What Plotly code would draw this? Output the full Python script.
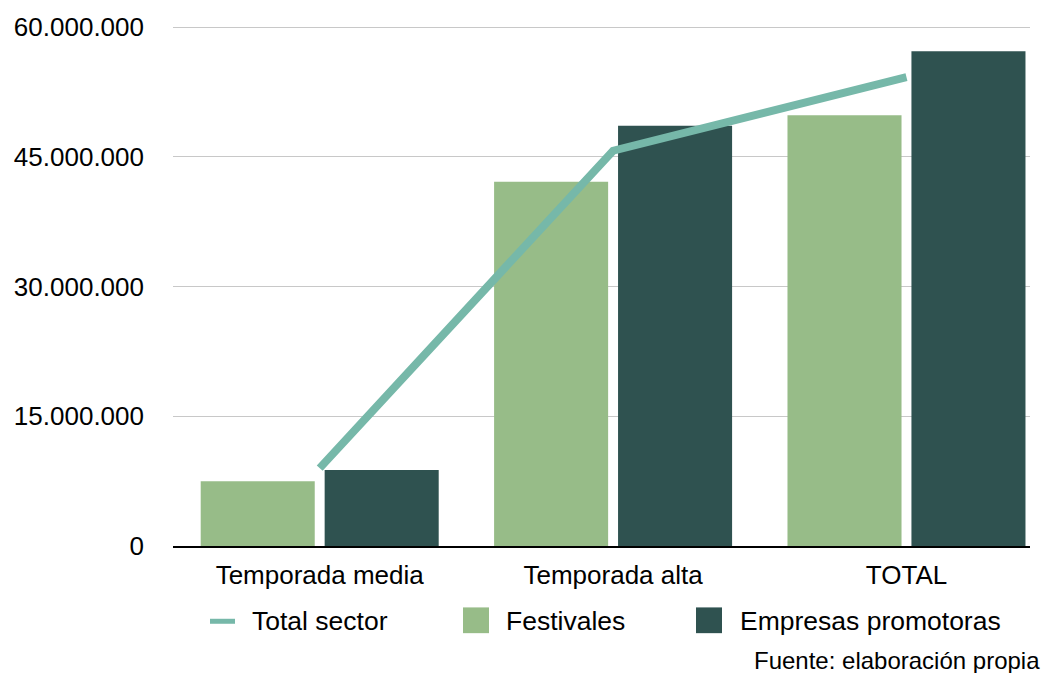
import plotly.graph_objects as go

categories = ["Temporada media", "Temporada alta", "TOTAL"]
festivales = [7.5e6, 42.1e6, 49.8e6]
empresas = [8.8e6, 48.6e6, 57.2e6]
total_sector = [9.0e6, 45.7e6, 54.2e6]
y_ticks = [0, 15e6, 30e6, 45e6, 60e6]

C_FEST = "#97BC88"
C_EMP = "#2F5250"
C_LINE = "#76B8A9"
FONT = "Liberation Sans, Arial, Helvetica, sans-serif"

W, H = 1043, 673
L, R, T, B = 173, 13, 21, 127
pw, ph = W - L - R, H - T - B

def px_x(x):
    return (x - L) / pw

def px_y(y):
    return (H - B - y) / ph

fig = go.Figure()
fig.add_trace(go.Bar(name="Festivales", x=categories, y=festivales,
                     marker=dict(color=C_FEST, line=dict(width=0)), showlegend=False))
fig.add_trace(go.Bar(name="Empresas promotoras", x=categories, y=empresas,
                     marker=dict(color=C_EMP, line=dict(width=0)), showlegend=False))
fig.add_trace(go.Scatter(name="Total sector", x=categories, y=total_sector, mode="lines",
                         line=dict(color=C_LINE, width=8), showlegend=False))

shapes = []
annotations = []
# legend (manual, pixel-matched)
ly = 622
LEG = 26.5
shapes.append(dict(type="line", xref="paper", yref="paper",
                   x0=px_x(210), x1=px_x(235), y0=px_y(ly), y1=px_y(ly),
                   line=dict(color=C_LINE, width=5)))
annotations.append(dict(text="Total sector", xref="paper", yref="paper",
                        x=px_x(250), y=px_y(ly), xanchor="left", yanchor="middle",
                        showarrow=False, font=dict(size=LEG, color="#000", family=FONT)))
shapes.append(dict(type="rect", xref="paper", yref="paper",
                   x0=px_x(463), x1=px_x(489), y0=px_y(634), y1=px_y(608),
                   fillcolor=C_FEST, line=dict(width=0)))
annotations.append(dict(text="Festivales", xref="paper", yref="paper",
                        x=px_x(504), y=px_y(ly), xanchor="left", yanchor="middle",
                        showarrow=False, font=dict(size=LEG, color="#000", family=FONT)))
shapes.append(dict(type="rect", xref="paper", yref="paper",
                   x0=px_x(696), x1=px_x(722), y0=px_y(634), y1=px_y(608),
                   fillcolor=C_EMP, line=dict(width=0)))
annotations.append(dict(text="Empresas promotoras", xref="paper", yref="paper",
                        x=px_x(738), y=px_y(ly), xanchor="left", yanchor="middle",
                        showarrow=False, font=dict(size=LEG, color="#000", family=FONT)))
annotations.append(dict(text="Fuente: elaboración propia", xref="paper", yref="paper",
                        x=px_x(1042), y=px_y(662), xanchor="right", yanchor="middle",
                        showarrow=False, font=dict(size=24, color="#000", family=FONT)))

fig.update_layout(
    width=W, height=H,
    margin=dict(l=L, r=R, t=T, b=B),
    paper_bgcolor="white", plot_bgcolor="white",
    barmode="group", bargap=0.155, bargroupgap=0.08,
    separators=",.",
    font=dict(family=FONT, size=26, color="#000"),
    shapes=shapes, annotations=annotations,
    showlegend=False,
    xaxis=dict(type="category", range=[-0.5, 2.421], showline=True, linecolor="#000",
               linewidth=2, ticks="", showgrid=False, tickfont=dict(size=26),
               ticklabelstandoff=5, zeroline=False),
    yaxis=dict(range=[0, 60.12e6], tickvals=y_ticks, tickformat=",.0f", showgrid=True,
               gridcolor="#C8C8C8", gridwidth=1, zeroline=False, showline=False,
               ticks="", tickfont=dict(size=26), ticklabelstandoff=28),
)

fig.write_html("out.html", config={"displayModeBar": False},
               post_script="document.body.style.margin='0';document.body.style.padding='0';")
